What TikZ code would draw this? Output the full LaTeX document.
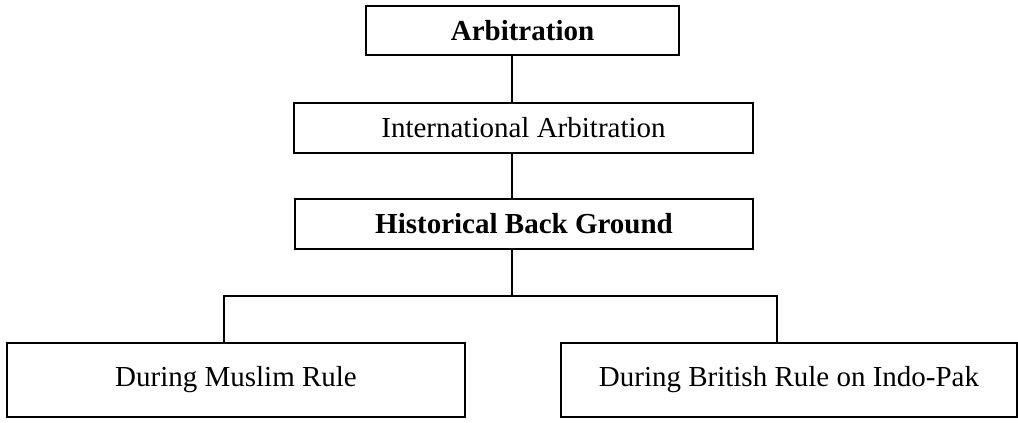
\documentclass[tikz,border=0pt]{standalone}
\usepackage{fontspec}
\setmainfont{Liberation Serif}
\begin{document}
\begin{tikzpicture}[x=1pt,y=-1pt,
  box/.style={draw, line width=2.4pt, rectangle, inner sep=0pt, font=\fontsize{29}{34}\selectfont},
  link/.style={line width=2.4pt}]
\useasboundingbox (0,0) rectangle (1018,423);
\node[box, minimum width=313pt, minimum height=49pt, font=\fontsize{29}{34}\selectfont\bfseries] (arb) at (522.5,30.5) {Arbitration};
\node[box, minimum width=459pt, minimum height=50pt] (intl) at (523.5,128) {International Arbitration};
\node[box, minimum width=458pt, minimum height=50pt, font=\fontsize{29}{34}\selectfont\bfseries] (hist) at (524,224) {Historical Back Ground};
\node[box, minimum width=458pt, minimum height=74pt] (muslim) at (236,380) {During Muslim Rule};
\node[box, minimum width=456pt, minimum height=74pt] (british) at (789,380) {During British Rule on Indo-Pak};
\coordinate (spine) at (512,0);
\coordinate (junction) at (512,296);
\coordinate (dl) at (224,0);
\coordinate (dr) at (777,0);
\draw[link] (arb.south -| spine) -- (intl.north -| spine);
\draw[link] (intl.south -| spine) -- (hist.north -| spine);
\draw[link] (hist.south -| spine) -- (junction);
\draw[link] (muslim.north -| dl) |- (junction) -| (british.north -| dr);
\end{tikzpicture}
\end{document}
